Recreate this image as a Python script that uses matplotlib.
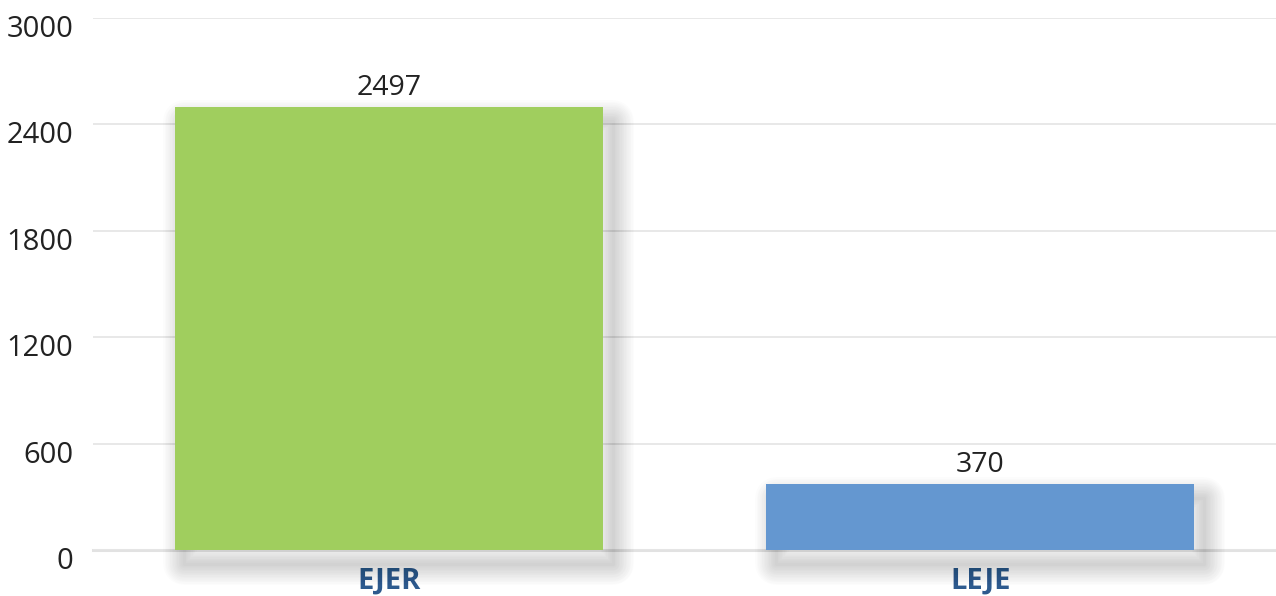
import matplotlib.pyplot as plt
import matplotlib.patheffects as pe
import matplotlib.transforms as mtransforms

# data
categories = ["EJER", "LEJE"]
values = [2497, 370]
bar_colors = ["#a0ce5e", "#6497d0"]
yticks = [0, 600, 1200, 1800, 2400, 3000]

plt.rcParams['font.family'] = ['Open Sans', 'DejaVu Sans']

fig = plt.figure(figsize=(12.76, 5.96), dpi=100)
ax = fig.add_axes([93 / 1276, 1 - 550 / 596, 1 - 93 / 1276, (550 - 18) / 596])

# soft drop shadow: stacked translucent outlines (no fill) around an offset copy
shadow = []
for w in range(30, 0, -2):
    shadow.append(pe.PathPatchEffect(offset=(7, -10), facecolor="none", edgecolor="black",
                                     linewidth=w, alpha=0.013, joinstyle="round"))
shadow.append(pe.Normal())

x = range(len(categories))
bars = ax.bar(x, values, width=0.724, color=bar_colors, zorder=3)
for b in bars:
    b.set_path_effects(shadow)
    b.set_clip_on(False)

for b, v in zip(bars, values):
    ax.annotate(str(v), (b.get_x() + b.get_width() / 2, v), xytext=(0, 4),
                textcoords="offset points", ha="center", va="bottom",
                fontsize=20.5, color="#222222", zorder=4)

ax.set_xlim(-0.5, 1.5)
ax.set_ylim(0, 3000)
ax.set_yticks(yticks)
ax.set_yticklabels([str(t) for t in yticks])
ax.set_xticks(list(x))
ax.set_xticklabels(categories, fontsize=21, fontweight="bold", color="#2d5a8e")

ax.tick_params(axis="y", length=0, pad=14, labelsize=21, labelcolor="#222222")
ax.tick_params(axis="x", length=0, pad=12)

# y labels sit a little below their gridline
off = mtransforms.ScaledTranslation(0, -8 / 100, fig.dpi_scale_trans)
for lab in ax.get_yticklabels():
    lab.set_transform(lab.get_transform() + off)

ax.grid(axis="y", color="#e6e6e6", linewidth=1.3, zorder=0)
for s in ["top", "right", "left"]:
    ax.spines[s].set_visible(False)
ax.spines["bottom"].set_color("#e2e2e2")
ax.spines["bottom"].set_linewidth(2.2)
ax.spines["bottom"].set_zorder(1)

fig.savefig("out.png", dpi=100)
